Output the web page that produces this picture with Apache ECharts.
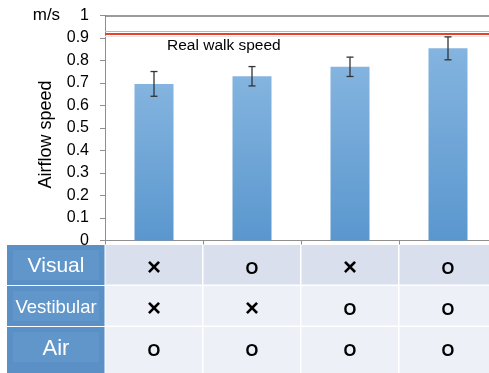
<!DOCTYPE html>
<html>
<head>
<meta charset="utf-8">
<script src="https://cdn.jsdelivr.net/npm/echarts@6/dist/echarts.min.js"></script>
<style>html,body{margin:0;padding:0;background:#fff;}#c{width:489px;height:373px;}</style>
</head>
<body>
<div id="c"></div>
<script>
// ---- data ----
const conditions = ['C1', 'C2', 'C3', 'C4'];
const airflow = [0.696, 0.730, 0.772, 0.854];
const errors = [0.055, 0.043, 0.043, 0.051];
const realWalkSpeed = 0.921;
const yMin = 0, yMax = 1, yInterval = 0.1;
const tableRows = ['Visual', 'Vestibular', 'Air'];
const visualMarks = ['×', 'O', '×', 'O'];
const vestibularMarks = ['×', '×', 'O', 'O'];
const airMarks = ['O', 'O', 'O', 'O'];
const headerFontSizes = [21, 18.5, 22];

const markRows = [visualMarks, vestibularMarks, airMarks];
const tableCols = ['header'].concat(conditions);
const tableData = [];
tableRows.forEach((r, ri) => {
  tableData.push([0, ri, r]);
  markRows[ri].forEach((m, ci) => tableData.push([ci + 1, ri, m]));
});
const errData = airflow.map((v, i) => [i, v - errors[i], v + errors[i]]);

const chart = echarts.init(document.getElementById('c'), null, {renderer: 'canvas'});
const option = {
  animation: false,
  grid: [
    {left: 105, right: -8, top: 15.5, bottom: 132.5, containLabel: false, outerBoundsMode: 'none'},
    {left: 7, right: -8, top: 245, bottom: 5, containLabel: false, outerBoundsMode: 'none'}
  ],
  xAxis: [
    {type: 'category', gridIndex: 0, data: conditions,
     axisLine: {lineStyle: {color: '#8f8f8f', width: 1}},
     axisTick: {show: true, length: 4, lineStyle: {color: '#8f8f8f'}},
     axisLabel: {show: false}},
    {type: 'category', gridIndex: 1, data: tableCols, show: false}
  ],
  yAxis: [
    {type: 'value', gridIndex: 0, min: yMin, max: yMax, interval: yInterval,
     name: 'Airflow speed', nameLocation: 'middle', nameGap: 50, nameMoveOverlap: false,
     nameTextStyle: {fontSize: 18, color: '#000', fontFamily: 'Liberation Sans', padding: [0, 13, 0, 0]},
     axisLine: {show: true, lineStyle: {color: '#8f8f8f', width: 1}},
     axisTick: {show: true, length: 5, lineStyle: {color: '#8f8f8f'}},
     splitLine: {show: false},
     axisLabel: {fontSize: 16, color: '#000', fontFamily: 'Liberation Sans', margin: 16,
       formatter: v => (Math.abs(v - 1) < 1e-9 ? '{u|m/s}{s|}1' : String(Math.round(v * 10) / 10)),
       rich: {u: {fontSize: 17, color: '#000', fontFamily: 'Liberation Sans'}, s: {width: 20}}}},
    {type: 'category', gridIndex: 1, data: tableRows, inverse: true, show: false}
  ],
  series: [
    {type: 'bar', xAxisIndex: 0, yAxisIndex: 0, data: airflow, barWidth: 39,
     itemStyle: {color: new echarts.graphic.LinearGradient(0, 0, 0, 1, [
       {offset: 0, color: '#84B4DF'}, {offset: 1, color: '#5A97CE'}])},
     markLine: {silent: true, symbol: 'none', animation: false,
       data: [
         {yAxis: 1, lineStyle: {color: '#7a7a7a', width: 1.5, type: 'solid'}, label: {show: false}},
         {yAxis: realWalkSpeed - 0.007, lineStyle: {color: '#e4e4e4', width: 1, type: 'solid'}, label: {show: false}},
         {yAxis: realWalkSpeed + 0.006, lineStyle: {color: '#F2B441', width: 1, type: 'solid'}, label: {show: false}},
         {yAxis: realWalkSpeed, lineStyle: {color: '#E4432B', width: 2, type: 'solid'},
          label: {show: true, position: 'insideStartBottom', formatter: 'Real walk speed',
                  fontSize: 15.5, color: '#000', fontFamily: 'Liberation Sans',
                  padding: [0, 0, 0, 58], distance: 4}}
       ]}},
    {type: 'custom', xAxisIndex: 0, yAxisIndex: 0, data: errData, z: 5,
     renderItem: (params, api) => {
       const lo = api.coord([api.value(0), api.value(1)]);
       const hi = api.coord([api.value(0), api.value(2)]);
       const st = {stroke: '#333', lineWidth: 1.3};
       return {type: 'group', children: [
         {type: 'line', shape: {x1: lo[0], y1: lo[1], x2: hi[0], y2: hi[1]}, style: st},
         {type: 'line', shape: {x1: lo[0] - 3.5, y1: lo[1], x2: lo[0] + 3.5, y2: lo[1]}, style: st},
         {type: 'line', shape: {x1: hi[0] - 3.5, y1: hi[1], x2: hi[0] + 3.5, y2: hi[1]}, style: st}
       ]};
     }},
    {type: 'custom', xAxisIndex: 1, yAxisIndex: 1, data: tableData, z: 10, clip: false,
     renderItem: (params, api) => {
       const ci = api.value(0), ri = api.value(1);
       const txt = tableData[params.dataIndex][2];
       const c = api.coord([ci, ri]);
       const sz = api.size([1, 1]);
       const w = sz[0], h = sz[1];
       const x0 = c[0] - w / 2, y0 = c[1] - h / 2;
       const hh = ri === tableRows.length - 1 ? h + 12 : h;
       const children = [];
       if (ci === 0) {
         children.push({type: 'rect', shape: {x: x0, y: y0, width: w - 0.5, height: hh - 1},
                        style: {fill: '#5B90C7'}});
         children.push({type: 'rect', shape: {x: x0 + 6, y: y0 + 5, width: w - 12, height: h - 11},
                        style: {fill: '#6196CB'}});
         children.push({type: 'text', style: {text: txt, x: c[0], y: c[1] + 1, align: 'center', verticalAlign: 'middle',
                        fill: '#fff', fontSize: headerFontSizes[ri], fontFamily: 'Liberation Sans'}});
       } else {
         children.push({type: 'rect', shape: {x: x0 + 0.5, y: y0, width: w - 1.5, height: hh - 1.5},
                        style: {fill: ri === 0 ? '#D9DFEC' : '#EDF0F7'}});
         const isX = txt === '×';
         children.push({type: 'text', style: {text: txt, x: c[0], y: c[1] + (isX ? 3 : 3.5), align: 'center', verticalAlign: 'middle',
                        fill: '#000', fontSize: isX ? 24 : 16.5, fontWeight: 'bold',
                        fontFamily: 'Liberation Sans'}});
       }
       return {type: 'group', children: children};
     }}
  ]
};
chart.setOption(option);
</script>
</body>
</html>
